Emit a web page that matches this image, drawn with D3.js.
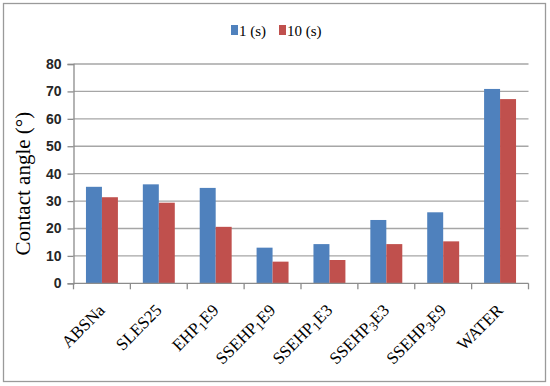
<!DOCTYPE html>
<html>
<head>
<meta charset="utf-8">
<script src="https://cdn.jsdelivr.net/npm/d3@7"></script>
<style>
  html, body { margin: 0; padding: 0; background: #fff; }
  svg { display: block; }
</style>
</head>
<body>
<svg id="chart" width="550" height="386"></svg>
<script>
const categories = ["ABSNa", "SLES25", "EHP1E9", "SSEHP1E9", "SSEHP1E3", "SSEHP3E3", "SSEHP3E9", "WATER"];
const seriesNames = ["1 (s)", "10 (s)"];
const values1s = [35.2, 36.1, 34.8, 13.0, 14.3, 23.1, 25.9, 70.9];
const values10s = [31.4, 29.4, 20.6, 7.9, 8.5, 14.3, 15.3, 67.2];
const yTicks = [0, 10, 20, 30, 40, 50, 60, 70, 80];
const yTitle = "Contact angle (°)";
const colors = ["#4f81bd", "#c0504d"];

const seriesValues = [values1s, values10s];
const svg = d3.select("#chart");
const serif = "'Liberation Serif', 'Times New Roman', Times, serif";

// outer frame
svg.append("rect")
  .attr("x", 3.5).attr("y", 3.5).attr("width", 542).attr("height", 378)
  .attr("fill", "#fff").attr("stroke", "#9a9a9a").attr("stroke-width", 1.3);

const plot = { left: 73.5, right: 528.5, top: 64, bottom: 283.3 };

const x0 = d3.scaleBand().domain(categories).range([plot.left, plot.right]).padding(0);
const x1 = d3.scaleBand().domain(seriesNames).range([0, x0.bandwidth()]).paddingInner(0).paddingOuter(0.78);
const y = d3.scaleLinear().domain([0, 80]).range([plot.bottom, plot.top]);

// gridlines
svg.append("g").selectAll("line").data(yTicks.filter(d => d > 0)).join("line")
  .attr("x1", plot.left).attr("x2", plot.right)
  .attr("y1", d => y(d)).attr("y2", d => y(d))
  .attr("stroke", "#a6a6a6").attr("stroke-width", 1.3);

// bars
const groups = svg.append("g").selectAll("g").data(categories).join("g")
  .attr("transform", d => `translate(${x0(d)},0)`);
groups.selectAll("rect").data((d, i) => seriesNames.map((s, j) => ({ s, j, v: seriesValues[j][i] })))
  .join("rect")
  .attr("x", d => x1(d.s))
  .attr("width", x1.bandwidth())
  .attr("y", d => y(d.v))
  .attr("height", d => y(0) - y(d.v))
  .attr("fill", d => colors[d.j]);

// y axis
const yAxis = d3.axisLeft(y).tickValues(yTicks).tickSize(6).tickPadding(6);
const gy = svg.append("g").attr("transform", `translate(${plot.left},0)`).call(yAxis)
  .attr("font-family", "'Liberation Sans', Arial, sans-serif");
gy.select(".domain").attr("stroke", "#8c8c8c").attr("stroke-width", 1.3);
gy.selectAll(".tick line").attr("stroke", "#8c8c8c").attr("stroke-width", 1.3);
gy.selectAll(".tick text")
  .attr("font-family", "'Liberation Sans', Arial, sans-serif")
  .attr("font-size", 14).attr("font-weight", "bold").attr("fill", "#262626");

// x axis (ticks at band boundaries)
const gx = svg.append("g").attr("transform", `translate(0,${plot.bottom})`);
gx.append("line").attr("x1", plot.left).attr("x2", plot.right)
  .attr("stroke", "#8c8c8c").attr("stroke-width", 1.3);
const boundaries = categories.map(c => x0(c)).concat([plot.right]);
gx.selectAll("line.tk").data(boundaries).join("line").attr("class", "tk")
  .attr("x1", d => d).attr("x2", d => d).attr("y1", 0).attr("y2", 6)
  .attr("stroke", "#8c8c8c").attr("stroke-width", 1.3);

// x labels, rotated -45, with subscripts after "HP"
const labels = gx.selectAll("text.lbl").data(categories).join("text").attr("class", "lbl")
  .attr("transform", d => `translate(${x0(d) + x0.bandwidth() / 2 + 4},${28}) rotate(-45)`)
  .attr("text-anchor", "end")
  .attr("font-family", serif)
  .attr("font-size", 17).attr("fill", "#000");
labels.each(function (d) {
  const t = d3.select(this);
  const m = d.match(/^(.*HP)(\d)(.*)$/);
  if (m) {
    t.append("tspan").text(m[1]);
    t.append("tspan").attr("font-size", 13).attr("dy", 3).text(m[2]);
    t.append("tspan").attr("dy", -3).text(m[3]);
  } else {
    t.text(d);
  }
});

// y title
svg.append("text")
  .attr("transform", `translate(30,${(plot.top + plot.bottom) / 2 + 10}) rotate(-90)`)
  .attr("text-anchor", "middle")
  .attr("font-family", serif)
  .attr("font-size", 21).attr("fill", "#000")
  .text(yTitle);

// legend
const legendPos = [231, 279];
const lg = svg.append("g").selectAll("g").data(seriesNames).join("g")
  .attr("transform", (d, i) => `translate(${legendPos[i]},25)`);
lg.append("rect").attr("x", 0).attr("y", 0).attr("width", 7).attr("height", 10)
  .attr("fill", (d, i) => colors[i]);
lg.append("text").attr("x", 8).attr("y", 10.5)
  .attr("font-family", serif)
  .attr("font-size", 15).attr("fill", "#000")
  .text(d => d);
</script>
</body>
</html>
